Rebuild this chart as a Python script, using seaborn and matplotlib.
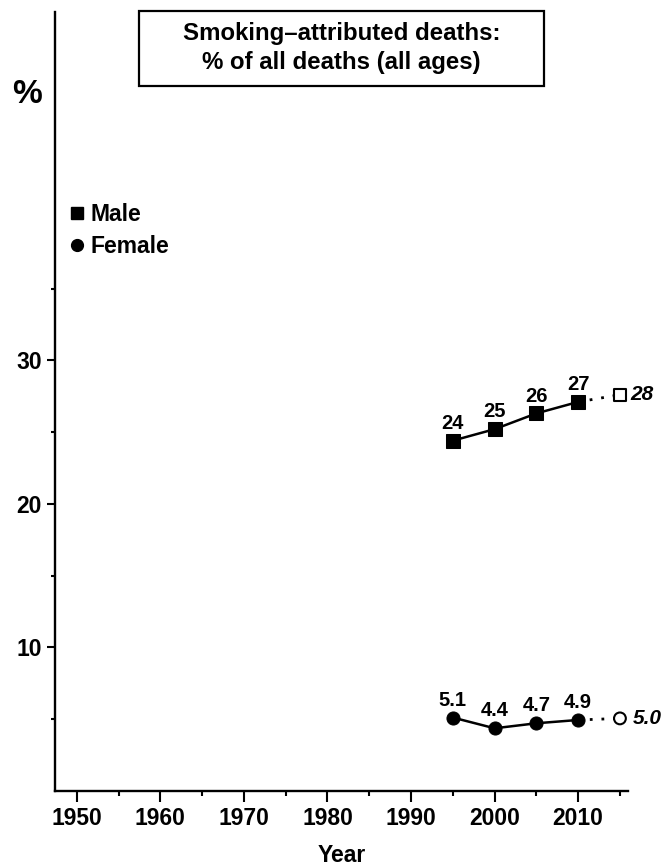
import matplotlib
matplotlib.use("Agg")
import matplotlib.pyplot as plt
from matplotlib.lines import Line2D
from matplotlib.patches import Rectangle
import seaborn as sns
import pandas as pd

# ---- data ----
years = [1995, 2000, 2005, 2010]
male = [24.4, 25.2, 26.3, 27.1]
female = [5.1, 4.35, 4.7, 4.93]
male_labels = ["24", "25", "26", "27"]
female_labels = ["5.1", "4.4", "4.7", "4.9"]
proj_year = 2015
male_proj = 27.6
female_proj = 5.04
male_proj_label = "28"
female_proj_label = "5.0"
x_major = [1950, 1960, 1970, 1980, 1990, 2000, 2010]
x_minor = [1955, 1965, 1975, 1985, 1995, 2005, 2015]
y_major = [10, 20, 30]
y_minor = [5, 15, 25, 35]
title_line1 = "Smoking\u2013attributed deaths:"
title_line2 = "% of all deaths (all ages)"

sns.set_style("ticks")
plt.rcParams["font.family"] = ["Liberation Sans", "DejaVu Sans"]
plt.rcParams["font.weight"] = "bold"
for k in ["text.color", "axes.labelcolor", "xtick.color", "ytick.color", "axes.edgecolor"]:
    plt.rcParams[k] = "black"

W, H = 662, 868
fig = plt.figure(figsize=(W / 100, H / 100), dpi=100)
ax = fig.add_axes([55 / W, 77.3 / H, 573.3 / W, 779 / H])

df = pd.DataFrame({
    "year": years * 2,
    "pct": male + female,
    "sex": ["Male"] * len(years) + ["Female"] * len(years),
})
proj = pd.DataFrame({
    "year": [years[-1], proj_year, years[-1], proj_year],
    "pct": [male[-1], male_proj, female[-1], female_proj],
    "sex": ["Male", "Male", "Female", "Female"],
})

# dotted projection segments
for s in ["Male", "Female"]:
    sns.lineplot(data=proj[proj.sex == s], x="year", y="pct", ax=ax,
                 color="black", linewidth=2.0, linestyle=(0, (1, 3.2)),
                 legend=False, zorder=2)

# solid observed series
sns.lineplot(data=df, x="year", y="pct", style="sex",
             markers={"Male": "s", "Female": "o"}, dashes=False,
             color="black", linewidth=1.8, markersize=9.4,
             markeredgecolor="black", legend=False, ax=ax, zorder=3)

# open projection markers
pp = proj[proj.year == proj_year]
sns.scatterplot(data=pp, x="year", y="pct", style="sex",
                markers={"Male": "s", "Female": "o"}, s=72,
                facecolor="white", edgecolor="black", linewidth=1.5,
                legend=False, ax=ax, zorder=4)

# value labels
for x, y, t in zip(years, male, male_labels):
    ax.annotate(t, (x, y), xytext=(0, 8.5), textcoords="offset points",
                ha="center", va="baseline", fontsize=14.5, fontweight="bold")
for x, y, t in zip(years, female, female_labels):
    ax.annotate(t, (x, y), xytext=(0, 8.5), textcoords="offset points",
                ha="center", va="baseline", fontsize=14.5, fontweight="bold")
ax.annotate(male_proj_label, (proj_year, male_proj), xytext=(7.5, 0),
            textcoords="offset points", ha="left", va="center",
            fontsize=15, fontweight="bold", fontstyle="italic",
            annotation_clip=False)
ax.annotate(female_proj_label, (proj_year, female_proj), xytext=(9.5, 0),
            textcoords="offset points", ha="left", va="center",
            fontsize=15, fontweight="bold", fontstyle="italic",
            annotation_clip=False)

# axes
ax.set_xlim(1947.4, 2016)
ax.set_ylim(0, 54.3)
ax.set_xticks(x_major)
ax.set_xticks(x_minor, minor=True)
ax.set_yticks(y_major)
ax.set_yticks(y_minor, minor=True)
ax.set_xlabel("")
ax.set_ylabel("")
sns.despine(ax=ax)
for sp in ["left", "bottom"]:
    ax.spines[sp].set_linewidth(1.7)
    ax.spines[sp].set_color("black")
ax.tick_params(axis="x", which="major", length=8, width=1.5, labelsize=16.5,
               pad=3.5, colors="black")
ax.tick_params(axis="x", which="minor", length=3.8, width=1.5, colors="black")
ax.tick_params(axis="y", which="major", length=6, width=1.5, labelsize=16.5,
               pad=3.5, colors="black")
ax.tick_params(axis="y", which="minor", length=2.8, width=1.5, colors="black")
for lab in ax.get_xticklabels() + ax.get_yticklabels():
    lab.set_fontweight("bold")

# legend
handles = [
    Line2D([], [], marker="s", linestyle="none", color="black", markersize=8.5),
    Line2D([], [], marker="o", linestyle="none", color="black", markersize=8.5),
]
leg = ax.legend(handles, ["Male", "Female"], loc="upper left",
                bbox_to_anchor=(70 / W, 1 - 203 / H),
                bbox_transform=fig.transFigure, frameon=False,
                handlelength=0.6, handletextpad=0.3, labelspacing=0.4,
                borderpad=0, borderaxespad=0,
                prop={"size": 16.5, "weight": "bold"})
for t in leg.get_texts():
    t.set_color("black")

# title box (centred over the axes)
fig.patches.append(Rectangle((139 / W, 1 - 86 / H), (544 - 139) / W, 75 / H,
                             transform=fig.transFigure, fill=False,
                             edgecolor="black", linewidth=1.6))
fig.text(341.5 / W, 1 - 40 / H, title_line1, ha="center", va="baseline",
         fontsize=17.3, fontweight="bold")
fig.text(341.5 / W, 1 - 69 / H, title_line2, ha="center", va="baseline",
         fontsize=17.3, fontweight="bold")

# axis labels
fig.text(27 / W, 1 - 103 / H, "%", ha="center", va="baseline",
         fontsize=24, fontweight="bold")
fig.text(341.5 / W, 0.6 / H, "Year", ha="center", va="bottom",
         fontsize=16.5, fontweight="bold")

fig.savefig("out.png", dpi=100)
